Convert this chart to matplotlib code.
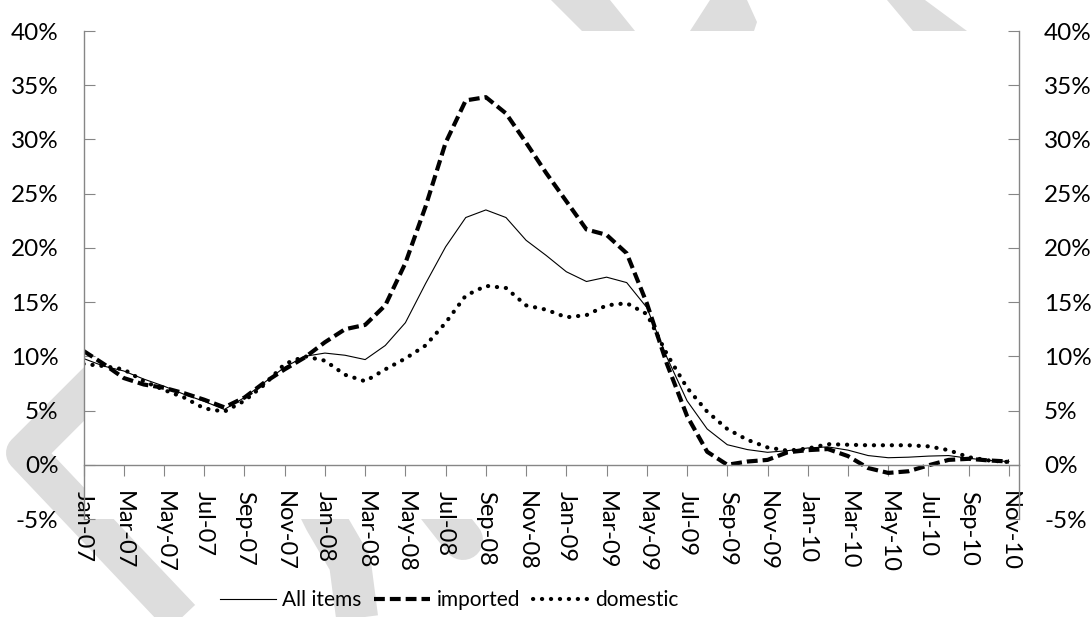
import matplotlib
matplotlib.use("Agg")
import matplotlib.pyplot as plt
from matplotlib.lines import Line2D
from matplotlib.patches import Polygon

plt.rcParams['font.family'] = ['Lato', 'DejaVu Sans']

# monthly year-on-year change, Jan-07 .. Nov-10 (%)
all_items = [9.8, 9.1, 8.65, 7.9, 7.25, 6.5, 5.85, 5.1, 6.2, 7.6,
             9.0, 10.0, 10.3, 10.1, 9.7, 11.0, 13.1, 16.7, 20.1, 22.8,
             23.5, 22.8, 20.7, 19.3, 17.8, 16.9, 17.3, 16.8, 14.5, 9.9,
             5.9, 3.3, 1.85, 1.4, 1.15, 1.3, 1.55, 1.65, 1.35, 0.85,
             0.65, 0.7, 0.8, 0.85, 0.6, 0.4, 0.3]
imported = [10.5, 9.3, 8.0, 7.4, 7.1, 6.6, 6.0, 5.3, 6.2, 7.6,
            8.8, 9.9, 11.3, 12.5, 12.9, 14.7, 18.6, 23.8, 29.7, 33.6,
            33.9, 32.4, 29.7, 26.9, 24.3, 21.7, 21.2, 19.5, 14.9, 9.3,
            4.5, 1.2, 0.0, 0.3, 0.45, 1.15, 1.35, 1.45, 0.8, -0.3,
            -0.75, -0.6, -0.05, 0.45, 0.55, 0.4, 0.3]
domestic = [9.3, 9.1, 8.8, 7.7, 6.9, 6.2, 5.2, 4.9, 5.9, 7.4,
            9.3, 10.0, 9.6, 8.3, 7.7, 8.8, 9.8, 11.0, 13.1, 15.6,
            16.5, 16.3, 14.7, 14.3, 13.6, 13.8, 14.7, 14.9, 13.9, 10.2,
            7.1, 4.9, 3.3, 2.3, 1.6, 1.3, 1.5, 1.9, 1.85, 1.8,
            1.8, 1.8, 1.7, 1.35, 0.7, 0.4, 0.25]

month_labels = ['Jan-07', 'Mar-07', 'May-07', 'Jul-07', 'Sep-07', 'Nov-07',
                'Jan-08', 'Mar-08', 'May-08', 'Jul-08', 'Sep-08', 'Nov-08',
                'Jan-09', 'Mar-09', 'May-09', 'Jul-09', 'Sep-09', 'Nov-09',
                'Jan-10', 'Mar-10', 'May-10', 'Jul-10', 'Sep-10', 'Nov-10']
y_ticks = [-5, 0, 5, 10, 15, 20, 25, 30, 35, 40]

W, H = 1091, 617
GRAY = '#868686'
SHADE = '#dddddd'

fig = plt.figure(figsize=(W / 100, H / 100), dpi=100)


def px(x, y):
    return x / W, 1 - y / H


# light background strokes
def stroke(pts, width, cap='butt'):
    xs, ys = zip(*[px(x, y) for x, y in pts])
    fig.add_artist(Line2D(xs, ys, color=SHADE, lw=width * 0.72,
                          solid_joinstyle='round', solid_capstyle=cap,
                          transform=fig.transFigure, zorder=0))


def patch(pts):
    fig.add_artist(Polygon([px(x, y) for x, y in pts], closed=True,
                           color=SHADE, lw=0, transform=fig.transFigure,
                           zorder=0))


stroke([(135, 343), (25, 453), (205, 643)], 38)
stroke([(300, 470), (325, 520), (350, 563), (360, 640)], 42)
stroke([(408, 470), (463, 540)], 40, cap='round')
patch([(551, 0), (610, 0), (635, 31), (582, 31)])
patch([(710, 0), (747, 0), (757, 22), (754, 31), (690, 31)])
patch([(887, 0), (925, 0), (967, 31), (913, 31)])

ax = fig.add_axes([83.5 / W, 1 - 519 / H, (1019 - 83.5) / W, (519 - 31) / H])
ax.set_zorder(1)

x = list(range(len(all_items)))
ax.plot(x, all_items, color='black', lw=0.8, label='All items')
ax.plot(x, imported, color='black', lw=3.0, dashes=(2.6, 1.2),
        dash_capstyle='butt', label='imported')
ax.plot(x, domestic, color='black', lw=3.0, linestyle=(0, (0.05, 2.1)),
        dash_capstyle='round', label='domestic')

ax.set_xlim(0, 46.5)
ax.set_ylim(-5, 40)

for side in ['left', 'right', 'bottom']:
    ax.spines[side].set_color(GRAY)
    ax.spines[side].set_linewidth(1)
ax.spines['top'].set_visible(False)
ax.spines['bottom'].set_position(('data', 0))

ax.set_xticks(range(0, len(all_items), 2))
ax.set_xticklabels(month_labels)
ax.tick_params(axis='x', direction='out', length=8, color=GRAY, pad=11,
               labelsize=17)
plt.setp(ax.get_xticklabels(), rotation=270, ha='center', va='top')

ax.set_yticks(y_ticks)
ax.set_yticklabels([f'{v}%' for v in y_ticks])
ax.tick_params(axis='y', direction='in', length=8, color=GRAY, pad=18,
               labelsize=17.5, left=True, right=True,
               labelleft=True, labelright=True)

fig.legend(loc='center', bbox_to_anchor=px(449, 600), ncol=3, frameon=False,
           fontsize=15, handlelength=2.7, handletextpad=0.3,
           columnspacing=0.6)

fig.savefig('out.png', dpi=100)
